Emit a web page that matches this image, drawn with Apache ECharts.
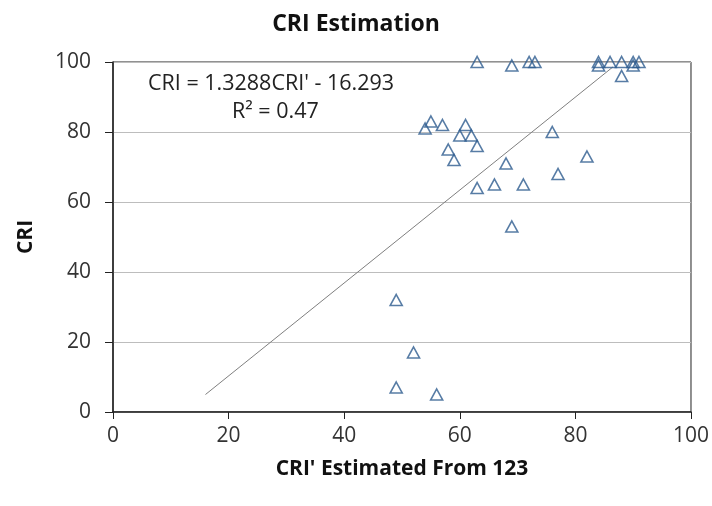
<!DOCTYPE html>
<html>
<head>
<meta charset="utf-8">
<script src="https://cdn.jsdelivr.net/npm/echarts@6/dist/echarts.min.js"></script>
<style>html,body{margin:0;padding:0;background:#fff}#c{width:712px;height:506px}</style>
</head>
<body>
<div id="c"></div>
<script>
// Observed data: CRI' estimated (x) vs CRI (y)
const xValues = [63, 69, 72, 73, 84, 84, 86, 88, 88, 90, 90, 91,
                 54, 55, 57, 61, 60, 62, 58, 59, 63, 76, 68, 82, 77, 63, 66, 71, 69,
                 49, 52, 49, 56];
const yValues = [100, 99, 100, 100, 100, 99, 100, 100, 96, 100, 99, 100,
                 81, 83, 82, 82, 79, 79, 75, 72, 76, 80, 71, 73, 68, 64, 65, 65, 53,
                 32, 17, 7, 5];
// Trendline endpoints as drawn
const trendX = [16, 86.5];
const trendY = [5, 98.6];
const xTicks = [0, 20, 40, 60, 80, 100];
const yTicks = [0, 20, 40, 60, 80, 100];
const titleText = 'CRI Estimation';
const xName = "CRI' Estimated From 123";
const yName = 'CRI';
const eqText = "CRI = 1.3288CRI' - 16.293";
const r2Text = 'R\u00B2 = 0.47';

const FONT = 'Open Sans';
const chart = echarts.init(document.getElementById('c'));
chart.setOption({
  animation: false,
  backgroundColor: '#fff',
  title: {
    text: titleText, left: 'center', top: 8,
    textStyle: { fontFamily: FONT, fontSize: 23, fontWeight: 'bold', color: '#111' }
  },
  grid: { left: 113, right: 19, top: 62, bottom: 94, show: true, borderColor: '#222', borderWidth: 1 },
  xAxis: {
    type: 'value', min: xTicks[0], max: xTicks[xTicks.length - 1], interval: 20,
    name: xName, nameLocation: 'middle', nameGap: 47,
    nameTextStyle: { fontFamily: FONT, fontSize: 21, fontWeight: 'bold', color: '#111' },
    axisLine: { show: true, onZero: false, lineStyle: { color: '#222', width: 1.5 } },
    axisTick: { show: true, inside: false, length: 7, lineStyle: { color: '#222' } },
    axisLabel: { margin: 14, fontFamily: FONT, fontSize: 21, color: '#333' },
    splitLine: { show: false }
  },
  yAxis: {
    type: 'value', min: yTicks[0], max: yTicks[yTicks.length - 1], interval: 20,
    name: yName, nameLocation: 'middle', nameGap: 76,
    nameTextStyle: { fontFamily: FONT, fontSize: 21, fontWeight: 'bold', color: '#111' },
    axisLine: { show: true, onZero: false, lineStyle: { color: '#222', width: 1.5 } },
    axisTick: { show: true, inside: false, length: 8, lineStyle: { color: '#222' } },
    axisLabel: { margin: 22, fontFamily: FONT, fontSize: 21, color: '#333' },
    splitLine: { show: true, lineStyle: { color: '#bdbdbd', width: 1 } }
  },
  graphic: [
    { type: 'text', left: 148, top: 73, style: { text: eqText, font: '21.5px "Open Sans"', fill: '#222' } },
    { type: 'text', left: 232, top: 101, style: { text: r2Text, font: '21.5px "Open Sans"', fill: '#222' } }
  ],
  series: [
    {
      type: 'line', data: trendX.map((x, i) => [x, trendY[i]]),
      showSymbol: false, symbol: 'none',
      lineStyle: { color: '#7f7f7f', width: 1 }, z: 2, silent: true
    },
    {
      type: 'scatter', data: xValues.map((x, i) => [x, yValues[i]]),
      symbol: 'triangle', symbolSize: [12, 11], clip: false,
      itemStyle: { color: 'rgba(0,0,0,0)', borderColor: '#2d5b8e', borderWidth: 1.6 },
      z: 3
    }
  ]
});
</script>
</body>
</html>
